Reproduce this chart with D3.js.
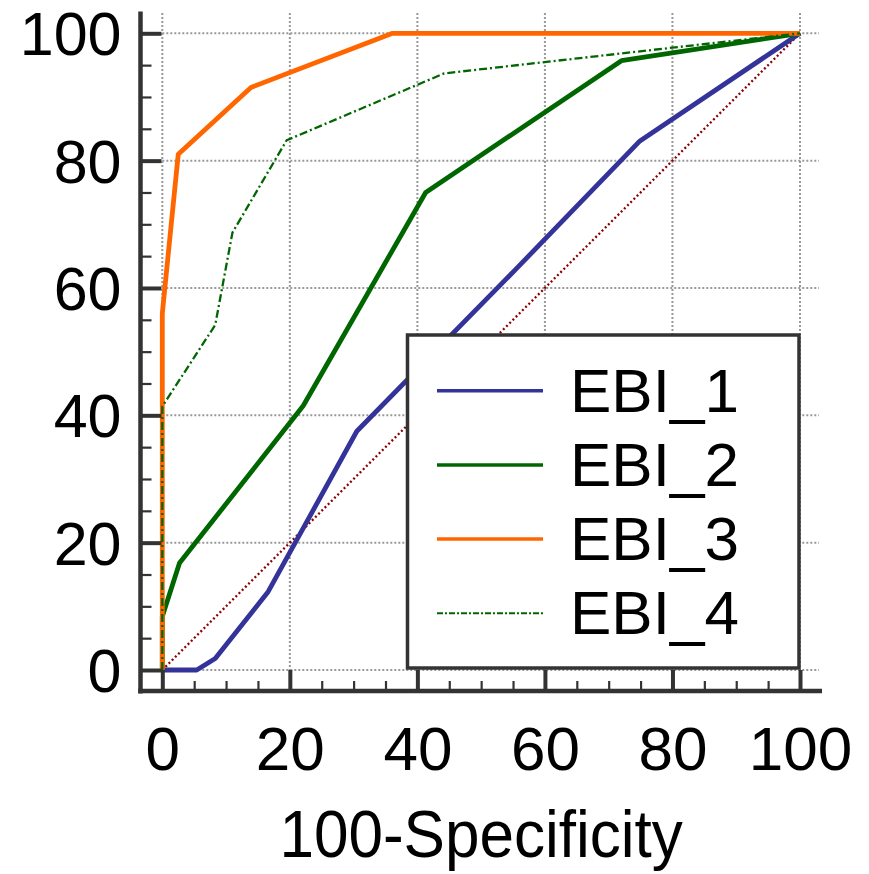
<!DOCTYPE html>
<html>
<head>
<meta charset="utf-8">
<script src="https://cdn.jsdelivr.net/npm/d3@7"></script>
<style>
  html, body { margin: 0; padding: 0; background: #fff; }
  svg { display: block; font-family: "Liberation Sans", Arial, sans-serif; }
</style>
</head>
<body>
<svg id="chart" width="869" height="874"></svg>
<script>
// ---- data ----
const seriesNames = ["EBI_1", "EBI_2", "EBI_3", "EBI_4"];
const ebi1X = [0, 5.4, 8.3, 16.6, 30.5, 55.3, 74.9, 100];
const ebi1Y = [0, 0, 1.8, 12.3, 37.5, 62.8, 83.1, 100];
const ebi2X = [0, 0, 2.7, 22.1, 41.3, 72.0, 100];
const ebi2Y = [0, 8.4, 16.8, 41.5, 75.0, 95.7, 100];
const ebi3X = [0, 0, 2.5, 13.9, 36.1, 100];
const ebi3Y = [0, 56, 81.0, 91.5, 100, 100];
const ebi4X = [0, 0, 8.3, 11.0, 19.5, 44.2, 100];
const ebi4Y = [0, 41.4, 54.2, 68.7, 83.2, 93.7, 100];
const diagX = [0, 100];
const diagY = [0, 100];
const majorTicks = [0, 20, 40, 60, 80, 100];
const minorTicks = [5, 10, 15, 25, 30, 35, 45, 50, 55, 65, 70, 75, 85, 90, 95];
const xTitle = "100-Specificity";

// ---- styles ----
const styles = [
  { color: "#333399", width: 4.8, dash: null, legendWidth: 3.5, legendDash: null },
  { color: "#006600", width: 4.8, dash: null, legendWidth: 3.5, legendDash: null },
  { color: "#ff6600", width: 4.8, dash: null, legendWidth: 3.5, legendDash: null },
  { color: "#006600", width: 2.3, dash: "8,3,2,3", legendWidth: 2, legendDash: "6,2,2,2" }
];
const axisColor = "#333333";

const svg = d3.select("#chart");
const x = d3.scaleLinear().domain([0, 100]).range([162.3, 800]);
const y = d3.scaleLinear().domain([0, 100]).range([670, 33.3]);

// grid
const grid = svg.append("g");
grid.selectAll("line.v").data(majorTicks).join("line")
  .attr("x1", d => x(d)).attr("x2", d => x(d))
  .attr("y1", 13).attr("y2", y(0))
  .attr("stroke", "#999").attr("stroke-width", 2).attr("stroke-dasharray", "2,2");
grid.selectAll("line.h").data(majorTicks).join("line")
  .attr("x1", x(0)).attr("x2", 819)
  .attr("y1", d => y(d)).attr("y2", d => y(d))
  .attr("stroke", "#999").attr("stroke-width", 2).attr("stroke-dasharray", "2,2");

// diagonal
const line = d3.line().x(d => x(d[0])).y(d => y(d[1]));
svg.append("path")
  .datum(d3.zip(diagX, diagY))
  .attr("d", line)
  .attr("fill", "none").attr("stroke", "#8b0000")
  .attr("stroke-width", 2.3).attr("stroke-dasharray", "2,2.5");

// curves
const xs = [ebi1X, ebi2X, ebi3X, ebi4X];
const ys = [ebi1Y, ebi2Y, ebi3Y, ebi4Y];
seriesNames.forEach((name, i) => {
  svg.append("path")
    .datum(d3.zip(xs[i], ys[i]))
    .attr("d", line)
    .attr("fill", "none")
    .attr("stroke", styles[i].color)
    .attr("stroke-width", styles[i].width)
    .attr("stroke-linejoin", "round")
    .attr("stroke-dasharray", styles[i].dash);
});

// y axis
const yAxisX = 140.5;
const yAx = svg.append("g").attr("transform", `translate(${yAxisX},0)`);
yAx.call(d3.axisLeft(y).tickValues(majorTicks).tickSizeInner(-21).tickSizeOuter(0).tickPadding(19));
yAx.select(".domain").remove();
yAx.selectAll(".tick line").attr("stroke", axisColor).attr("stroke-width", 4);
yAx.selectAll(".tick text")
  .attr("dy", null).attr("y", 21.5)
  .attr("font-size", 61).attr("fill", "#000")
  .style("font-family", "'Liberation Sans', Arial, sans-serif");
const yMin = svg.append("g").attr("transform", `translate(${yAxisX},0)`);
yMin.call(d3.axisLeft(y).tickValues(minorTicks).tickSizeInner(-11).tickSizeOuter(0).tickFormat(""));
yMin.select(".domain").remove();
yMin.selectAll(".tick line").attr("stroke", axisColor).attr("stroke-width", 2.2);
svg.append("line").attr("x1", yAxisX).attr("x2", yAxisX).attr("y1", 11.5).attr("y2", 693.5)
  .attr("stroke", axisColor).attr("stroke-width", 4.5);

// x axis
const xAxisY = 691;
const xAx = svg.append("g").attr("transform", `translate(0,${xAxisY})`);
xAx.call(d3.axisBottom(x).tickValues(majorTicks).tickSizeInner(-21).tickSizeOuter(0).tickPadding(0));
xAx.select(".domain").remove();
xAx.selectAll(".tick line").attr("stroke", axisColor).attr("stroke-width", 4);
xAx.selectAll(".tick text")
  .attr("dy", null).attr("y", 79)
  .attr("font-size", 62).attr("fill", "#000")
  .style("font-family", "'Liberation Sans', Arial, sans-serif");
const xMin = svg.append("g").attr("transform", `translate(0,${xAxisY})`);
xMin.call(d3.axisBottom(x).tickValues(minorTicks).tickSizeInner(-10).tickSizeOuter(0).tickFormat(""));
xMin.select(".domain").remove();
xMin.selectAll(".tick line").attr("stroke", axisColor).attr("stroke-width", 2.2);
svg.append("line").attr("x1", yAxisX - 2.25).attr("x2", 822).attr("y1", xAxisY).attr("y2", xAxisY)
  .attr("stroke", axisColor).attr("stroke-width", 4.5);

// x title (slightly condensed, as in the reference)
const titleCx = (x(0) + x(100)) / 2;
svg.append("text")
  .attr("transform", `translate(${titleCx},857) scale(0.94,1)`)
  .attr("text-anchor", "middle")
  .attr("font-size", 66).attr("fill", "#000")
  .text(xTitle);

// legend
const lg = svg.append("g");
lg.append("rect").attr("x", 407.5).attr("y", 335).attr("width", 391.5).attr("height", 333)
  .attr("fill", "#fff").attr("stroke", axisColor).attr("stroke-width", 3.5);
const legendBase = [411.7, 485.9, 560.1, 634.3];
seriesNames.forEach((name, i) => {
  lg.append("line")
    .attr("x1", 437).attr("x2", 543)
    .attr("y1", legendBase[i] - 21).attr("y2", legendBase[i] - 21)
    .attr("stroke", styles[i].color)
    .attr("stroke-width", styles[i].legendWidth)
    .attr("stroke-dasharray", styles[i].legendDash);
  lg.append("text")
    .attr("x", 570).attr("y", legendBase[i])
    .attr("font-size", 62).attr("fill", "#000")
    .text(name);
});
</script>
</body>
</html>
